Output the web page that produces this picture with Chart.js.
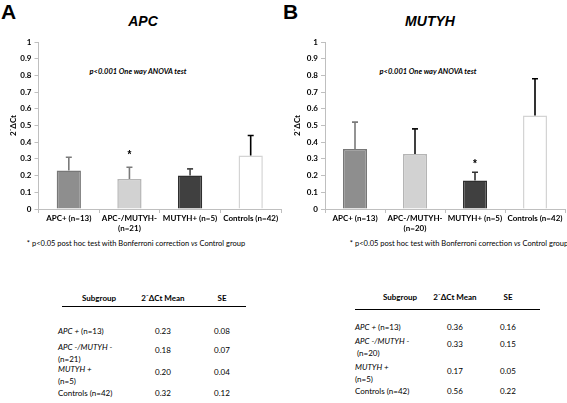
<!DOCTYPE html>
<html>
<head>
<meta charset="utf-8">
<script src="https://cdn.jsdelivr.net/npm/chart.js@4"></script>
<style>
  body { margin: 0; background: #fff; }
  #wrap { position: relative; width: 567px; height: 403px; background: #fff; font-family: Lato, "Liberation Sans", sans-serif; color: #000; overflow: hidden; }
  .abs { position: absolute; white-space: nowrap; }
  .panel { font-family: "Liberation Sans", sans-serif; font-weight: bold; font-size: 21px; }
  .title { font-family: "Liberation Sans", sans-serif; font-weight: bold; font-style: italic; font-size: 14px; transform: translateX(-50%); }
  .anova { font-weight: bold; font-style: italic; font-size: 7.5px; transform: translateX(-50%); }
  .note { font-size: 7.5px; transform: translateX(-50%); }
  .cell { font-size: 8px; line-height: 12px; transform: translateY(-50%); }
  .cc { transform: translate(-50%, -50%); }
  .hdr { font-weight: bold; }
  .rule { position: absolute; height: 1px; background: #000; }
  .box { position: absolute; }
</style>
</head>
<body>
<div id="wrap">
  <div class="abs panel" style="left:1px;top:0px">A</div>
  <div class="abs title" style="left:143px;top:13px">APC</div>
  <div class="abs anova" style="left:138px;top:67px">p&lt;0.001 One way ANOVA test</div>
  <div class="box" style="left:0;top:30px;width:283px;height:206px"><canvas id="chartA"></canvas></div>

  <div class="abs panel" style="left:283px;top:0px">B</div>
  <div class="abs title" style="left:430px;top:13px">MUTYH</div>
  <div class="abs anova" style="left:428px;top:67px">p&lt;0.001 One way ANOVA test</div>
  <div class="box" style="left:285px;top:30px;width:282px;height:206px"><canvas id="chartB"></canvas></div>

  <div class="abs note" style="left:136px;top:239px">* p&lt;0.05 post hoc test with Bonferroni correction <i>vs</i> Control group</div>
  <div class="abs note" style="left:459px;top:239px">* p&lt;0.05 post hoc test with Bonferroni correction <i>vs</i> Control group</div>
</div>

<script>
// ===== 데이터 =====
const categoriesA = [['APC+ (n=13)'], ['APC-/MUTYH-', '(n=21)'], ['MUTYH+ (n=5)'], ['Controls (n=42)']];
const categoriesB = [['APC+ (n=13)'], ['APC-/MUTYH-', '(n=20)'], ['MUTYH+ (n=5)'], ['Controls (n=42)']];

const meansA = [0.23, 0.18, 0.20, 0.32];
const seA = [0.08, 0.07, 0.04, 0.12];
const starsA = [null, 0.335, null, null];

const meansB = [0.36, 0.33, 0.17, 0.56];
const seB = [0.16, 0.15, 0.05, 0.22];
const starsB = [null, null, 0.28, null];

const yTicks = [0, 0.1, 0.2, 0.3, 0.4, 0.5, 0.6, 0.7, 0.8, 0.9, 1];

const tableRowsA = ['<i>APC +</i> (n=13)', '<i>APC -/MUTYH -</i><br>(n=21)', '<i>MUTYH +</i><br>(n=5)', 'Controls (n=42)'];
const tableRowsB = ['<i>APC +</i> (n=13)', '<i>APC -/MUTYH -</i><br>&nbsp;(n=20)', '<i>MUTYH +</i><br>(n=5)', 'Controls (n=42)'];

// 막대 색상
const barFill = ['#8e8e8e', '#d2d2d2', '#404040', '#ffffff'];
const barBorder = ['#777777', '#b5b5b5', '#2e2e2e', '#d4d4d4'];
const errColorsA = ['#7a7a7a', '#7a7a7a', '#4a4a4a', '#000000'];
const errColorsB = ['#7a7a7a', '#111111', '#333333', '#000000'];

Chart.defaults.font.family = 'Lato, "Liberation Sans", sans-serif';
Chart.defaults.color = '#000';

// ===== 오차막대 + 별표 플러그인 =====
const errorBarPlugin = {
    id: 'errorBars',
    afterDatasetsDraw(chart, args, opts) {
        const ctx = chart.ctx;
        const meta = chart.getDatasetMeta(0);
        const y = chart.scales.y;
        meta.data.forEach((bar, i) => {
            const m = opts.means[i];
            const yBar = y.getPixelForValue(m);
            const yTop = y.getPixelForValue(m + opts.se[i]);
            ctx.save();
            ctx.strokeStyle = opts.colors[i];
            ctx.lineWidth = 1.6;
            ctx.beginPath();
            ctx.moveTo(bar.x, yBar);
            ctx.lineTo(bar.x, yTop);
            ctx.moveTo(bar.x - 3, yTop);
            ctx.lineTo(bar.x + 3, yTop);
            ctx.stroke();
            if (opts.stars[i] != null) {
                ctx.fillStyle = '#000';
                ctx.font = 'bold 10px "Liberation Sans", sans-serif';
                ctx.textAlign = 'center';
                ctx.textBaseline = 'middle';
                ctx.fillText('*', bar.x, y.getPixelForValue(opts.stars[i]) + 2);
            }
            ctx.restore();
        });
    }
};

function makeChart(id, categories, means, se, stars, errColors, yWidth, padLeft) {
    const ctx = document.getElementById(id).getContext('2d');
    return new Chart(ctx, {
        type: 'bar',
        data: {
            labels: categories,
            datasets: [{
                data: means,
                backgroundColor: barFill,
                borderColor: barBorder,
                borderWidth: 1.5,
                barPercentage: 0.4,
                categoryPercentage: 1
            }]
        },
        options: {
            responsive: true,
            maintainAspectRatio: false,
            animation: false,
            layout: { padding: { top: 12, left: padLeft, right: 2, bottom: 0 } },
            plugins: {
                legend: { display: false },
                tooltip: { enabled: false },
                errorBars: { means: means, se: se, stars: stars, colors: errColors }
            },
            scales: {
                x: {
                    grid: { display: true, offset: true, drawOnChartArea: false, color: '#bfbfbf', tickLength: 4 },
                    border: { color: '#bfbfbf', width: 1 },
                    ticks: { font: { size: 8, weight: 'bold' }, padding: 1, maxRotation: 0, autoSkip: false },
                    afterFit(scale) { scale.height = 27; }
                },
                y: {
                    min: 0,
                    max: 1,
                    afterBuildTicks(scale) { scale.ticks = yTicks.map(v => ({ value: v })); },
                    grid: { display: true, drawOnChartArea: false, color: '#bfbfbf', tickLength: 4 },
                    border: { color: '#bfbfbf', width: 1 },
                    ticks: { font: { size: 8, weight: 'bold' }, padding: 3, callback: v => String(Math.round(v * 10) / 10) },
                    title: { display: true, text: '2⁻ΔCt', font: { size: 8, weight: 'bold' }, padding: { top: 4, bottom: 0 } },
                    afterFit(scale) { scale.width = yWidth; }
                }
            }
        },
        plugins: [errorBarPlugin]
    });
}

makeChart('chartA', categoriesA, meansA, seA, starsA, errColorsA, 34, 4.5);
makeChart('chartB', categoriesB, meansB, seB, starsB, errColorsB, 36, 4);

// ===== 표 =====
function addCell(html, x, y, cls, center) {
    const d = document.createElement('div');
    d.className = 'abs cell ' + (cls || '') + (center ? ' cc' : '');
    d.style.left = x + 'px';
    d.style.top = y + 'px';
    d.innerHTML = html;
    document.getElementById('wrap').appendChild(d);
}

function buildTable(rows, means, se, t) {
    addCell('Subgroup', t.subX, t.hdrY, 'hdr', true);
    addCell('2⁻ΔCt Mean', t.meanX, t.hdrY, 'hdr', true);
    addCell('SE', t.seX, t.hdrY, 'hdr', true);
    const rule = document.createElement('div');
    rule.className = 'rule';
    rule.style.left = t.ruleL + 'px';
    rule.style.width = (t.ruleR - t.ruleL) + 'px';
    rule.style.top = t.ruleY + 'px';
    document.getElementById('wrap').appendChild(rule);
    rows.forEach((r, i) => {
        const twoLine = r.indexOf('<br>') >= 0;
        addCell(r, t.labelX, t.rowY[i] + (twoLine ? 6 : 0), '', false);
        addCell(means[i].toFixed(2), t.meanX, t.valY[i], '', true);
        addCell(se[i].toFixed(2), t.seX, t.valY[i], '', true);
    });
}

buildTable(tableRowsA, meansA, seA, {
    subX: 99, meanX: 163, seX: 222, hdrY: 298, ruleL: 62, ruleR: 246, ruleY: 306,
    labelX: 58, rowY: [331, 347, 369, 393], valY: [331, 350, 372, 393]
});
buildTable(tableRowsB, meansB, seB, {
    subX: 400, meanX: 455, seX: 508, hdrY: 297, ruleL: 355, ruleR: 540, ruleY: 309,
    labelX: 355, rowY: [327, 341, 367, 391], valY: [327, 344, 371, 391]
});
</script>
</body>
</html>
